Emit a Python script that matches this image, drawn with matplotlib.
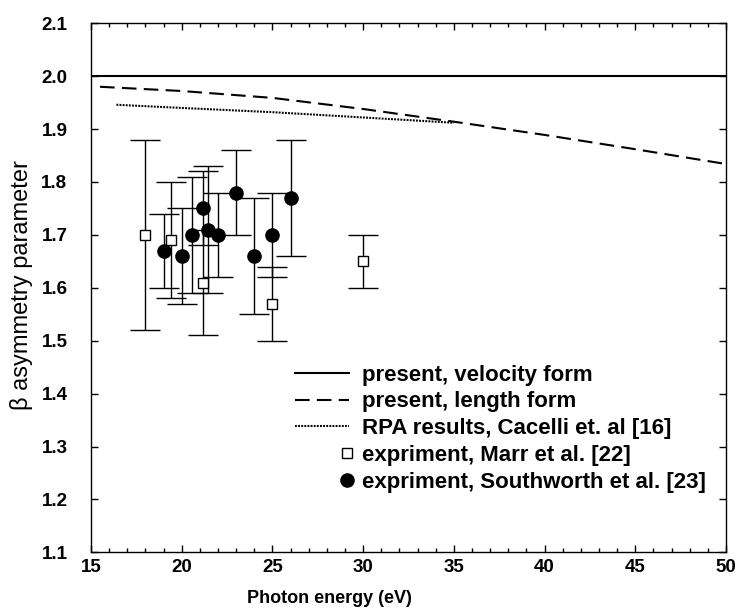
import numpy as np
import matplotlib
matplotlib.use("Agg")
from matplotlib import pyplot as plt
from matplotlib.legend_handler import HandlerLine2D
from matplotlib.ticker import MultipleLocator

plt.rcParams['font.family'] = ['Liberation Sans', 'DejaVu Sans']

# Theory curves
velocity_x = [15, 50]
velocity_y = [2.0, 2.0]

length_x = [15.5, 20, 25, 30, 35, 40, 45, 50]
length_y = [1.980, 1.972, 1.959, 1.938, 1.914, 1.889, 1.862, 1.834]

rpa_x = [16.4, 20, 25, 30, 35]
rpa_y = [1.946, 1.940, 1.932, 1.922, 1.912]

# Experiment, Marr et al.
marr_x = [18, 19.4, 21.2, 25, 30]
marr_y = [1.70, 1.69, 1.61, 1.57, 1.65]
marr_err = [0.18, 0.11, 0.10, 0.07, 0.05]

# Experiment, Southworth et al.
south_x = [19, 20, 20.55, 21.15, 21.45, 22, 23, 24, 25, 26]
south_y = [1.67, 1.66, 1.70, 1.75, 1.71, 1.70, 1.78, 1.66, 1.70, 1.77]
south_err = [0.07, 0.09, 0.11, 0.07, 0.12, 0.08, 0.08, 0.11, 0.08, 0.11]


# Legend handler that puts the single marker near the right end of the handle
# (the handler marks the middle of a 3 point line, so centre that line there)
class HandlerRightMarker(HandlerLine2D):
    def get_xdata(self, legend, xdescent, ydescent, width, height, fontsize):
        xm = -xdescent + 0.95 * width
        return [xm - 1, xm + 1], [xm]


fig = plt.figure(figsize=(7.4, 6.13), dpi=100)
ax = fig.add_axes([0.123, 0.099, 0.858, 0.863])

ax.plot(velocity_x, velocity_y, color='black', lw=1.5, label='present, velocity form')
ax.plot(length_x, length_y, color='black', lw=1.5, linestyle=(0, (7, 3.5)),
        label='present, length form')
ax.plot(rpa_x, rpa_y, color='black', lw=1.5, linestyle=(0, (0.9, 0.6)),
        label='RPA results, Cacelli et. al [16]')

ax.errorbar(marr_x, marr_y, yerr=marr_err, fmt='none', ecolor='black',
            elinewidth=1, capsize=10.5, capthick=1, zorder=3)
ax.errorbar(south_x, south_y, yerr=south_err, fmt='none', ecolor='black',
            elinewidth=1, capsize=10.5, capthick=1, zorder=3)
sq, = ax.plot(marr_x, marr_y, 's', ms=6.7, mfc='white', mec='black', mew=1,
              linestyle='none', zorder=4, label='expriment, Marr et al. [22]')
ci, = ax.plot(south_x, south_y, 'o', ms=9.5, color='black',
              linestyle='none', zorder=5, label='expriment, Southworth et al. [23]')

ax.set_xlim(15, 50)
ax.set_ylim(1.1, 2.1)
ax.xaxis.set_major_locator(MultipleLocator(5))
ax.xaxis.set_minor_locator(MultipleLocator(1))
ax.yaxis.set_major_locator(MultipleLocator(0.1))
ax.yaxis.set_major_formatter(plt.FormatStrFormatter('%.1f'))

ax.tick_params(which='both', direction='in', top=True, right=True)
ax.tick_params(which='major', length=5, width=1)
ax.tick_params(which='minor', length=3, width=1)
ax.tick_params(axis='x', which='major', pad=5, labelsize=13.5)
ax.tick_params(axis='y', which='major', pad=17, labelsize=13.5)
for lbl in ax.get_xticklabels() + ax.get_yticklabels():
    lbl.set_fontweight('bold')

for sp in ax.spines.values():
    sp.set_linewidth(1)

ax.set_xlabel('Photon energy (eV)', fontsize=13, fontweight='bold')
ax.xaxis.set_label_coords(0.375, -0.072)
ax.set_ylabel('\u03b2 asymmetry parameter', fontsize=17)
ax.yaxis.set_label_coords(-0.092, 0.506)

handler = HandlerRightMarker()
leg = ax.legend(loc='upper left', bbox_to_anchor=(0.321, 0.355), frameon=False,
                borderpad=0, borderaxespad=0, handlelength=2.45, handletextpad=0.58,
                labelspacing=0.26, prop={'size': 16, 'weight': 'bold'},
                handler_map={sq: handler, ci: handler})

fig.savefig('out.png', dpi=100)
